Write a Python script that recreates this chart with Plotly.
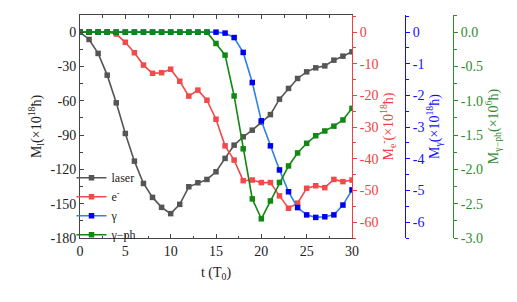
import plotly.graph_objects as go

t = list(range(31))
laser = [0, -6.4, -18.6, -37.6, -61.8, -88.6, -112.8, -132.3, -144.5, -153.2, -158.7,
         -150.6, -135.2, -131.7, -128.8, -122.1, -110.4, -98.8, -91.5, -85.7, -78.9,
         -72.1, -58.6, -49.2, -40.5, -34.7, -31.2, -29.5, -24.5, -21.0, -17.2]
electron = [0, 0, 0, 0, -0.6, -3.2, -6.5, -10.4, -13.0, -12.8, -11.7,
            -15.5, -20.2, -18.3, -21.5, -27.5, -35.9, -40.4, -46.9, -46.7, -47.5,
            -47.5, -51.7, -55.6, -54.0, -49.3, -48.5, -49.1, -46.5, -47.2, -46.7]
gamma = [0]*16 + [-0.03, -0.17, -0.64, -1.59, -2.80, -3.59, -4.35, -5.04, -5.54,
                  -5.77, -5.85, -5.83, -5.77, -5.46, -4.98]
gamma_ph = [0]*15 + [-0.165, -0.335, -0.93, -1.70, -2.43, -2.72, -2.46, -2.19, -1.95,
                     -1.76, -1.62, -1.51, -1.44, -1.37, -1.28, -1.11]

x_ticks = [0, 5, 10, 15, 20, 25, 30]
left_ticks = [0, -30, -60, -90, -120, -150, -180]
left_labels = ["0", "-30", "-60", "-90", "-120", "-150", "-180"]
red_ticks = [0, -10, -20, -30, -40, -50, -60]
red_labels = ["0", "-10", "-20", "-30", "-40", "-50", "-60"]
blue_ticks = [0, -1, -2, -3, -4, -5, -6]
blue_labels = ["0", "-1", "-2", "-3", "-4", "-5", "-6"]
green_ticks = [0.0, -0.5, -1.0, -1.5, -2.0, -2.5, -3.0]
green_labels = ["0.0", "-0.5", "-1.0", "-1.5", "-2.0", "-2.5", "-3.0"]

C_GRAY = "#555555"
C_RED = "#f04a4a"
C_BLUE_LINE = "#2f80e8"
C_BLUE_MK = "#0000ee"
C_GREEN = "#118811"
AX_RED = "#f04040"
AX_BLUE = "#1010ff"
AX_GREEN = "#2e8b2e"

FONT = "Liberation Serif"

fig = go.Figure()
ms = 5.5
fig.add_trace(go.Scatter(x=t, y=laser, name="laser", mode="lines+markers",
                         line=dict(color=C_GRAY, width=1.6),
                         marker=dict(symbol="square", size=ms, color=C_GRAY)))
fig.add_trace(go.Scatter(x=t, y=electron, name="e<sup>-</sup>", mode="lines+markers", yaxis="y2",
                         line=dict(color=C_RED, width=1.6),
                         marker=dict(symbol="square", size=ms, color=C_RED)))
fig.add_trace(go.Scatter(x=t, y=gamma, name="γ", mode="lines+markers", yaxis="y3",
                         line=dict(color=C_BLUE_LINE, width=1.6),
                         marker=dict(symbol="square", size=ms, color=C_BLUE_MK)))
fig.add_trace(go.Scatter(x=t, y=gamma_ph, name="γ−ph", mode="lines+markers", yaxis="y4",
                         line=dict(color=C_GREEN, width=1.6),
                         marker=dict(symbol="square", size=ms, color=C_GREEN)))

# page body has an 8px margin, so the figure is drawn at (8, 8)
OFF = 8
W, H = 517 - OFF, 302 - OFF
L, R, T, B = 80 - OFF, 12, 15 - OFF, H - (238 - OFF)
pw = W - L - R
def px(x):
    return (x - 80) / pw

TS = 14
tickfont = dict(family=FONT, size=TS, color="#222")
tfont = 14
fig.update_layout(
    width=W, height=H,
    margin=dict(l=L, r=R, t=T, b=B),
    paper_bgcolor="white", plot_bgcolor="white",
    font=dict(family=FONT, size=12, color="#222"),
    showlegend=True,
    legend=dict(x=-0.02, y=0.335, xanchor="left", yanchor="top",
                bgcolor="rgba(0,0,0,0)", font=dict(family=FONT, size=12),
                tracegroupgap=0, itemwidth=30),
    xaxis=dict(domain=[0, px(352)], range=[0, 30], tickvals=x_ticks,
               ticks="inside", ticklen=4, mirror="ticks", showline=True, automargin=False,
               linecolor="#444", linewidth=1, showgrid=False, zeroline=False,
               minor=dict(dtick=2.5, ticks="inside", ticklen=2.5, tickcolor="#444"),
               tickcolor="#444", tickfont=tickfont,
               title=dict(text="t (T<sub>0</sub>)", font=dict(family=FONT, size=tfont), standoff=9)),
    yaxis=dict(range=[-180, 15], tickvals=left_ticks, ticktext=left_labels, ticks="inside", ticklen=4,
               automargin=False,
               showline=True, linecolor="#444", linewidth=1, showgrid=False, zeroline=False,
               minor=dict(dtick=15, ticks="inside", ticklen=2.5, tickcolor="#444"),
               tickcolor="#444", tickfont=tickfont,
               title=dict(text="M<sub>l</sub>(×10<sup>18</sup>ħ)", font=dict(family=FONT, size=tfont), standoff=5)),
    yaxis2=dict(overlaying="y", side="right", anchor="x", range=[-65, 65 * 15 / 180], automargin=False,
                tickvals=red_ticks, ticktext=red_labels, ticks="outside", ticklen=4, showline=True,
                linecolor=AX_RED, linewidth=1, tickcolor=AX_RED, showgrid=False, zeroline=False,
                minor=dict(dtick=5, ticks="outside", ticklen=2.5, tickcolor=AX_RED),
                tickfont=dict(family=FONT, size=TS, color=AX_RED),
                title=dict(text="M<sub>e</sub><sup>-</sup>(×10<sup>18</sup>ħ)",
                           font=dict(family=FONT, size=tfont, color=AX_RED), standoff=1)),
    yaxis3=dict(overlaying="y", side="right", anchor="free", position=px(405), automargin=False,
                range=[-6.5, 6.5 * 15 / 180],
                tickvals=blue_ticks, ticktext=blue_labels, ticks="outside", ticklen=4, showline=True,
                linecolor=AX_BLUE, linewidth=1, tickcolor=AX_BLUE, showgrid=False, zeroline=False,
                minor=dict(dtick=0.5, ticks="outside", ticklen=2.5, tickcolor=AX_BLUE),
                tickfont=dict(family=FONT, size=TS, color=AX_BLUE),
                title=dict(text="M<sub>γ</sub>(×10<sup>18</sup>ħ)",
                           font=dict(family=FONT, size=tfont, color=AX_BLUE), standoff=1)),
    yaxis4=dict(overlaying="y", side="right", anchor="free", position=px(453), automargin=False,
                range=[-3.0, 0.25],
                tickvals=green_ticks, ticktext=green_labels, ticks="outside", ticklen=4, showline=True,
                linecolor=AX_GREEN, linewidth=1, tickcolor=AX_GREEN, showgrid=False, zeroline=False,
                minor=dict(dtick=0.25, ticks="outside", ticklen=2.5, tickcolor=AX_GREEN),
                tickfont=dict(family=FONT, size=TS, color=AX_GREEN),
                title=dict(text="M<sub>γ−ph</sub>(×10<sup>6</sup>ħ)",
                           font=dict(family=FONT, size=tfont, color=AX_GREEN), standoff=1)),
)

fig.write_html("out.html")
